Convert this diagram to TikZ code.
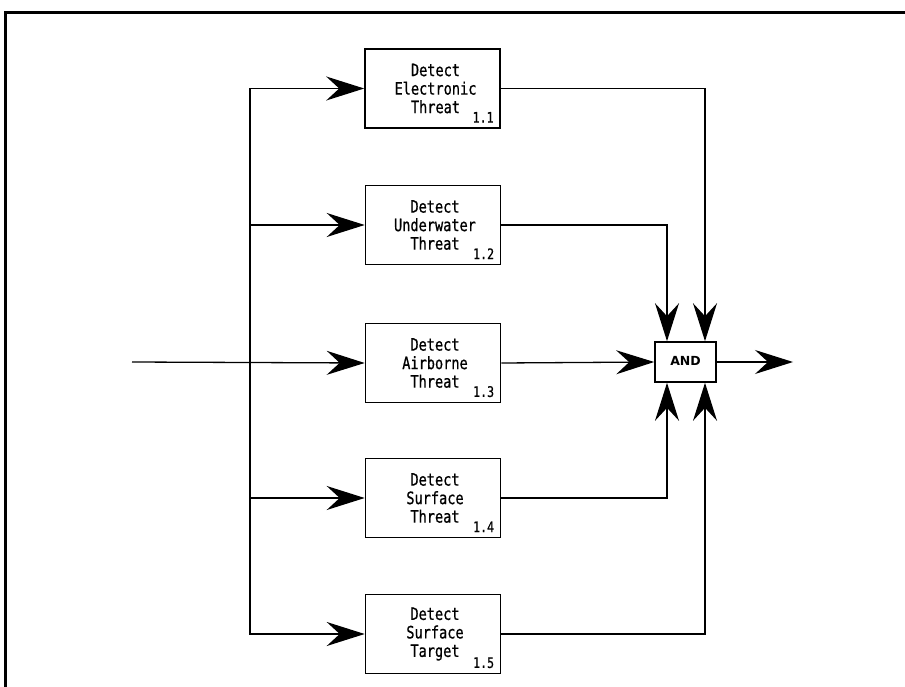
\documentclass[tikz,border=0pt]{standalone}
\usepackage{fontspec}
\newfontfamily\cad[FakeStretch=0.8,FakeBold=0.8]{DejaVu Sans Mono}
\newfontfamily\cadsans{DejaVu Sans}
\usetikzlibrary{arrows.meta,calc}
\tikzset{
  fbox/.style={draw, line width=1.6pt, minimum width=135pt, minimum height=79pt, inner sep=0pt,
    align=center, font=\cad\fontsize{17}{18.5}\selectfont},
  andbox/.style={draw, line width=1.6pt, minimum width=61pt, minimum height=40pt, inner sep=0pt,
    font=\cadsans\bfseries\fontsize{12.5}{13}\selectfont},
  num/.style={anchor=south east, inner sep=0pt, font=\cad\fontsize{14.5}{15}\selectfont},
  conn/.style={line width=1.3pt},
  arr/.style={conn, -{Stealth[length=38pt, width=24pt, inset=13pt]}},
  frame/.style={line width=3pt}
}
\begin{document}
\begin{tikzpicture}[x=1pt,y=-1pt]
\useasboundingbox (0,0) rectangle (905,687);
% frame
\coordinate (ftl) at (5,13);
\coordinate (ftr) at (905,13);
\coordinate (fbl) at (5,687);
\draw[frame] (ftr) -- (ftl) -- (fbl);
% boxes
\node[fbox] (b1) at (432.5,88.5) {\hspace*{6pt}Detect\\\hspace*{6pt}Electronic\\\hspace*{6pt}Threat};
\node[fbox] (b2) at (433,225) {\hspace*{4pt}Detect\\\hspace*{4pt}Underwater\\\hspace*{4pt}Threat};
\node[fbox] (b3) at (433,363) {\hspace*{4pt}Detect\\\hspace*{4pt}Airborne\\\hspace*{4pt}Threat};
\node[fbox] (b4) at (433,498) {\hspace*{4pt}Detect\\\hspace*{4pt}Surface\\\hspace*{4pt}Threat};
\node[fbox] (b5) at (433,634) {\hspace*{4pt}Detect\\\hspace*{4pt}Surface\\\hspace*{4pt}Target};
\node[num] (n1) at ([xshift=-7pt,yshift=6pt]b1.south east) {1.1};
\node[num] (n2) at ([xshift=-7pt,yshift=6pt]b2.south east) {1.2};
\node[num] (n3) at ([xshift=-7pt,yshift=6pt]b3.south east) {1.3};
\node[num] (n4) at ([xshift=-7pt,yshift=6pt]b4.south east) {1.4};
\node[num] (n5) at ([xshift=-7pt,yshift=6pt]b5.south east) {1.5};
\node[andbox] (and) at (685.5,362) {\raisebox{3pt}{AND}};
% inputs
\coordinate (in) at (132,362);
\coordinate (bus) at (250,362);
\draw[arr] (in) -- (b3.west);
\draw[arr] (bus) |- (b1.west);
\draw[arr] (bus) |- (b2.west);
\draw[arr] (bus) |- (b4.west);
\draw[arr] (bus) |- (b5.west);
% outputs
\coordinate (aT1) at ([xshift=-18.5pt]and.north);
\coordinate (aT2) at ([xshift=19.5pt]and.north);
\coordinate (aB1) at ([xshift=-18.5pt]and.south);
\coordinate (aB2) at ([xshift=19.5pt]and.south);
\draw[arr] (b1.east) -| (aT2);
\draw[arr] (b2.east) -| (aT1);
\draw[arr] (b3.east) -- (and.west);
\draw[arr] (b4.east) -| (aB1);
\draw[arr] (b5.east) -| (aB2);
\coordinate (out) at (793,362);
\draw[arr] (and.east) -- (out);
\end{tikzpicture}
\end{document}
